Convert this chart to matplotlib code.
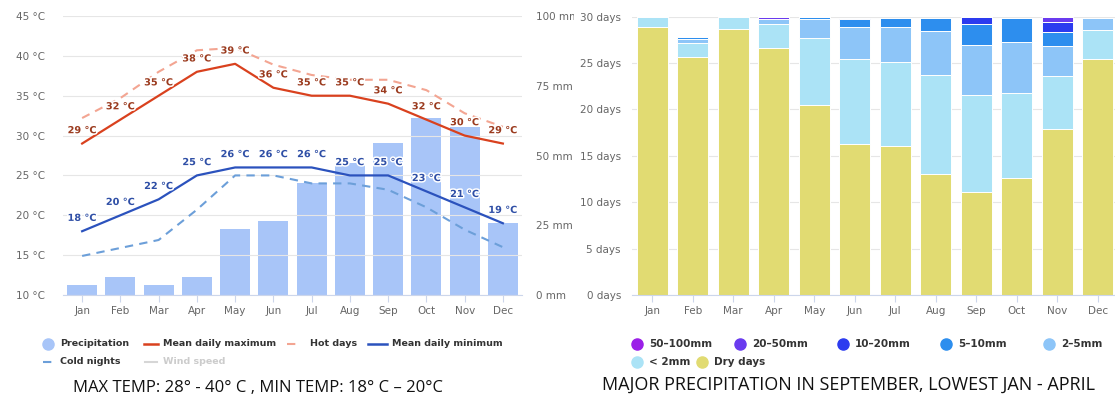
import matplotlib
matplotlib.use("Agg")
from matplotlib import pyplot as plt
from matplotlib.lines import Line2D
from matplotlib.transforms import Bbox, TransformedBbox
import matplotlib.patheffects as pe
import numpy as np

months = ["Jan", "Feb", "Mar", "Apr", "May", "Jun", "Jul", "Aug", "Sep", "Oct", "Nov", "Dec"]

# left chart: temperature (°C) and precipitation (mm)
mean_max = [29, 32, 35, 38, 39, 36, 35, 35, 34, 32, 30, 29]
hot_days = [32.2, 34.7, 38, 40.7, 41, 38.9, 37.6, 37, 37, 35.7, 32.8, 31.1]
mean_min = [18, 20, 22, 25, 26, 26, 26, 25, 25, 23, 21, 19]
cold_nights = [14.9, 15.9, 16.9, 20.7, 25, 25, 24, 24, 23.2, 21, 18.2, 16]
precip = [3.6, 6.3, 3.6, 6.3, 23.5, 26.6, 40, 47.3, 54.4, 63.3, 60.3, 25.7]

# right chart: days per month by precipitation class
dry = [28.9, 25.7, 28.7, 26.6, 20.5, 16.3, 16.1, 13.0, 11.1, 12.6, 17.9, 25.4]
lt2 = [1.1, 1.5, 1.3, 2.6, 7.2, 9.1, 9.0, 10.7, 10.5, 9.2, 5.7, 3.2]
mm2_5 = [0, 0.4, 0, 0.5, 2.0, 3.5, 3.8, 4.8, 5.4, 5.5, 3.2, 1.3]
mm5_10 = [0, 0.2, 0, 0, 0.3, 0.8, 1.0, 1.4, 2.2, 2.6, 1.5, 0]
mm10_20 = [0, 0, 0, 0, 0, 0.2, 0, 0, 0.8, 0, 1.1, 0]
mm20_50 = [0, 0, 0, 0.3, 0, 0, 0, 0, 0, 0, 0.6, 0]
mm50_100 = [0, 0, 0, 0, 0, 0, 0, 0, 0, 0, 0, 0]

W, H = 1115, 401
fig = plt.figure(figsize=(W / 100, H / 100), dpi=100)
plt.rcParams["font.family"] = ["DejaVu Sans"]

grid_c = "#e6e6e6"
axis_c = "#ccd6eb"
tick_txt = "#666666"
x = np.arange(12)


def px_axes(x0, y0, x1, y1):
    return fig.add_axes([x0 / W, 1 - y1 / H, (x1 - x0) / W, (y1 - y0) / H])


def fx(px):
    return px / W


def fy(py):
    return 1 - py / H


# ---------------- left chart ----------------
ax_t = px_axes(63, 16, 522, 295)
ax_p = ax_t.twinx()
ax_t.set_zorder(ax_p.get_zorder() + 1)
ax_t.patch.set_visible(False)

ax_p.bar(x, precip, width=0.78, color="#a8c5f8", zorder=2)
ax_p.set_ylim(0, 100)
ax_p.set_yticks([0, 25, 50, 75, 100])
ax_p.set_yticklabels([f"{v} mm" for v in [0, 25, 50, 75, 100]])

ax_t.plot(x, hot_days, color="#f3a592", lw=1.5, ls=(0, (4, 3)))
ax_t.plot(x, cold_nights, color="#6c9fd9", lw=1.5, ls=(0, (4, 3)))
ax_t.plot(x, mean_max, color="#d9411e", lw=1.6)
ax_t.plot(x, mean_min, color="#2b52bd", lw=1.6)

halo = [pe.withStroke(linewidth=2.2, foreground="white")]
for i in range(12):
    ax_t.annotate(f"{mean_max[i]} °C", (x[i], mean_max[i]), xytext=(0, 6),
                  textcoords="offset points", ha="center", va="bottom",
                  fontsize=7, fontweight="bold", color="#9b3b1f", path_effects=halo)
    ax_t.annotate(f"{mean_min[i]} °C", (x[i], mean_min[i]), xytext=(0, 6),
                  textcoords="offset points", ha="center", va="bottom",
                  fontsize=7, fontweight="bold", color="#2f4fa6", path_effects=halo)

ax_t.set_xlim(-0.5, 11.5)
ax_t.set_ylim(10, 45)
ax_t.set_yticks(range(10, 50, 5))
ax_t.set_yticklabels([f"{v} °C" for v in range(10, 50, 5)])
ax_t.set_xticks(x)
ax_t.set_xticklabels(months)
ax_t.grid(axis="y", color=grid_c, lw=0.8)
ax_t.set_axisbelow(True)

for a in (ax_t, ax_p):
    for s in a.spines.values():
        s.set_visible(False)
ax_t.spines["bottom"].set_visible(True)
ax_t.spines["bottom"].set_color(axis_c)
ax_t.tick_params(axis="y", length=0, pad=13, labelsize=7.5, labelcolor=tick_txt)
ax_t.tick_params(axis="x", length=5, color=axis_c, pad=3, labelsize=7.5, labelcolor=tick_txt)
ax_p.tick_params(axis="y", length=0, pad=10, labelsize=7.5, labelcolor=tick_txt)

# the screenshot cuts the mm labels at the panel edge
cut = TransformedBbox(Bbox([[0, 0], [574 / W, 1]]), fig.transFigure)
for lab in ax_p.get_yticklabels():
    lab.set_clip_box(cut)
    lab.set_clip_on(True)

# left legend
leg_txt = "#333333"
lf = 6.8
fig.add_artist(Line2D([fx(48)], [fy(344)], marker="o", ms=8, color="#a8c5f8", lw=0))
fig.text(fx(60), fy(344), "Precipitation", fontsize=lf, fontweight="bold", color=leg_txt, va="center")
fig.add_artist(Line2D([fx(144), fx(158)], [fy(344)] * 2, color="#d9411e", lw=1.8))
fig.text(fx(163), fy(344), "Mean daily maximum", fontsize=lf, fontweight="bold", color=leg_txt, va="center")
fig.add_artist(Line2D([fx(287), fx(300)], [fy(344)] * 2, color="#f3a592", lw=1.5, ls=(0, (4, 3))))
fig.text(fx(310), fy(344), "Hot days", fontsize=lf, fontweight="bold", color=leg_txt, va="center")
fig.add_artist(Line2D([fx(368), fx(387)], [fy(344)] * 2, color="#2b52bd", lw=1.8))
fig.text(fx(392), fy(344), "Mean daily minimum", fontsize=lf, fontweight="bold", color=leg_txt, va="center")
fig.add_artist(Line2D([fx(43), fx(56)], [fy(362)] * 2, color="#6c9fd9", lw=1.5, ls=(0, (4, 3))))
fig.text(fx(60), fy(362), "Cold nights", fontsize=lf, fontweight="bold", color=leg_txt, va="center")
fig.add_artist(Line2D([fx(145), fx(157)], [fy(362)] * 2, color="#d6d6d6", lw=1.5))
fig.text(fx(163), fy(362), "Wind speed", fontsize=lf, fontweight="bold", color="#cccccc", va="center")

fig.text(fx(258), fy(388), "MAX TEMP: 28° - 40° C , MIN TEMP: 18° C – 20°C",
         fontsize=12, family="Open Sans", ha="center", va="center", color="#111111")

# ---------------- right chart ----------------
ax_r = px_axes(632, 16.7, 1115, 295)
series = [
    ("Dry days", dry, "#e1db72"),
    ("< 2mm", lt2, "#abe3f6"),
    ("2–5mm", mm2_5, "#8dc5f8"),
    ("5–10mm", mm5_10, "#2d8eee"),
    ("10–20mm", mm10_20, "#2c3bef"),
    ("20–50mm", mm20_50, "#6a3bef"),
    ("50–100mm", mm50_100, "#9b1fe8"),
]
bottom = np.zeros(12)
for name, vals, col in series:
    vals = np.array(vals)
    ax_r.bar(x, vals, width=0.77, bottom=bottom, color=col, edgecolor="white", lw=0.7, zorder=2)
    bottom += vals

ax_r.set_xlim(-0.5, -0.5 + 483 / 40.5)
ax_r.set_ylim(0, 30)
ax_r.set_yticks(range(0, 31, 5))
ax_r.set_yticklabels([f"{v} days" for v in range(0, 31, 5)])
ax_r.set_xticks(x)
ax_r.set_xticklabels(months)
ax_r.grid(axis="y", color=grid_c, lw=0.8)
ax_r.set_axisbelow(True)
for s in ax_r.spines.values():
    s.set_visible(False)
ax_r.spines["bottom"].set_visible(True)
ax_r.spines["bottom"].set_color(axis_c)
ax_r.tick_params(axis="y", length=0, pad=8, labelsize=7.5, labelcolor=tick_txt)
ax_r.tick_params(axis="x", length=5, color=axis_c, pad=3, labelsize=7.5, labelcolor=tick_txt)

# right legend
leg_items = [
    (637, 344, "50–100mm", "#9b1fe8"),
    (740, 344, "20–50mm", "#6a3bef"),
    (843, 344, "10–20mm", "#2c3bef"),
    (946, 344, "5–10mm", "#2d8eee"),
    (1049, 344, "2–5mm", "#8dc5f8"),
    (637, 362, "< 2mm", "#abe3f6"),
    (702, 362, "Dry days", "#e1db72"),
]
for px, py, name, col in leg_items:
    fig.add_artist(Line2D([fx(px)], [fy(py)], marker="o", ms=8, color=col, lw=0))
    fig.text(fx(px + 12), fy(py), name, fontsize=7.5, fontweight="bold", color=leg_txt, va="center")

fig.text(fx(848), fy(385), "MAJOR PRECIPITATION IN SEPTEMBER, LOWEST JAN - APRIL",
         fontsize=13, family="Open Sans", ha="center", va="center", color="#111111")

fig.savefig("out.png", dpi=100)
